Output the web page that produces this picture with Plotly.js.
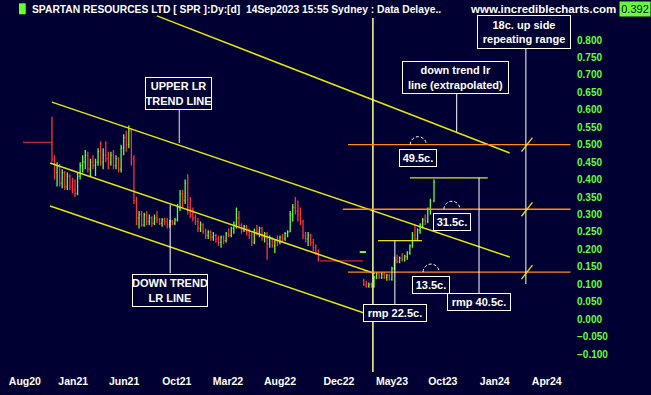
<!DOCTYPE html>
<html><head><meta charset="utf-8">
<script src="https://cdn.plot.ly/plotly-3.0.1.min.js"></script>
<style>html,body{margin:0;padding:0;background:#000033;overflow:hidden}#chart{width:651px;height:395px}</style>
</head><body><div id="chart"></div>
<script>
// ---- price data (weekly OHLC) ----
const barDates = [
'2020-11-04','2020-11-11','2020-11-18','2020-11-25','2020-12-02','2020-12-09','2020-12-16','2020-12-23','2020-12-30',
'2021-01-06','2021-01-13','2021-01-20','2021-01-27','2021-02-03','2021-02-10','2021-02-17','2021-02-24','2021-03-03','2021-03-10',
'2021-03-17','2021-03-24','2021-03-31','2021-04-07','2021-04-14','2021-04-21','2021-04-28','2021-05-05','2021-05-12','2021-05-19',
'2021-05-26','2021-06-02','2021-06-09','2021-06-16','2021-06-23','2021-06-30','2021-07-07','2021-07-14','2021-07-21','2021-07-28',
'2021-08-04','2021-08-11','2021-08-18','2021-08-25','2021-09-01','2021-09-08','2021-09-15','2021-09-22','2021-09-29','2021-10-06',
'2021-10-13','2021-10-20','2021-10-27','2021-11-03','2021-11-10','2021-11-17','2021-11-24','2021-12-01','2021-12-08','2021-12-15',
'2021-12-22','2021-12-29',
'2022-01-05','2022-01-12','2022-01-19','2022-01-26','2022-02-02','2022-02-09','2022-02-16','2022-02-23','2022-03-02','2022-03-09',
'2022-03-16','2022-03-23','2022-03-30','2022-04-06','2022-04-13','2022-04-20','2022-04-27','2022-05-04','2022-05-11','2022-05-18',
'2022-05-25','2022-06-01','2022-06-08','2022-06-15','2022-06-22','2022-06-29','2022-07-06','2022-07-13','2022-07-20','2022-07-27',
'2022-08-03','2022-08-10','2022-08-17','2022-08-24','2022-08-31','2022-09-07','2022-09-14','2022-09-21','2022-09-28','2022-10-05',
'2022-10-12','2022-10-19','2022-10-26','2022-11-02',
'2023-03-06','2023-03-13','2023-03-20','2023-03-27','2023-04-03','2023-04-10','2023-04-17','2023-04-24','2023-05-01','2023-05-08',
'2023-05-15','2023-05-22','2023-05-29','2023-06-05','2023-06-12','2023-06-19','2023-06-26','2023-07-03','2023-07-10','2023-07-17',
'2023-07-24','2023-07-31','2023-08-07','2023-08-14','2023-08-21','2023-08-28','2023-09-04','2023-09-14'];
const barOpen = [
.50,.46,.42,.44,.39,.42,.38,.41,.38,.37, .36,.41,.44,.45,.47,.43,.45,.44,.45,.48,
.45,.47,.46,.45,.47,.44,.46,.43,.49,.52, .50,.54,.46,.34,.29,.30,.27,.30,.28,.29,
.275,.29,.285,.275,.285,.28,.27,.28,.275,.285, .32,.36,.34,.39,.32,.30,.29,.28,.26,.27,
.25,.24,.25,.235,.24,.23,.22,.235,.225,.245, .24,.26,.27,.29,.27,.255,.265,.25,.24,.22,
.255,.25,.26,.235,.245,.215,.23,.21,.225,.22, .235,.23,.245,.25,.30,.32,.31,.30,.28,.24,
.23,.24,.22,.205,.19,
.11,.10,.095,.10,.095,.12,.13,.12,.13,.12, .125,.115,.145,.17,.165,.175,.17,.18,.19,.21,
.24,.23,.255,.27,.285,.28,.315,.34];
const barHigh = [
.58,.47,.45,.445,.43,.425,.42,.415,.405,.40, .42,.45,.47,.485,.48,.46,.47,.46,.49,.51,
.49,.51,.48,.48,.485,.47,.465,.50,.53,.54, .555,.545,.47,.35,.31,.31,.305,.31,.30,.295,
.30,.31,.29,.29,.29,.29,.285,.285,.29,.33, .37,.37,.40,.415,.35,.32,.30,.29,.28,.275,
.26,.255,.255,.25,.245,.24,.24,.24,.25,.26, .265,.28,.32,.31,.275,.27,.27,.26,.25,.26,
.27,.265,.265,.25,.25,.24,.235,.23,.24,.24, .245,.25,.255,.31,.33,.35,.34,.32,.285,.25,
.25,.245,.23,.215,.20,
.115,.11,.105,.105,.125,.135,.135,.135,.135,.13, .13,.15,.18,.185,.18,.19,.185,.195,.215,.25,
.27,.26,.275,.29,.30,.32,.345,.40];
const barLow = [
.45,.40,.38,.38,.375,.37,.37,.37,.36,.35, .355,.40,.42,.43,.42,.41,.43,.41,.44,.44,
.43,.45,.43,.44,.43,.43,.42,.42,.47,.48, .49,.44,.33,.27,.26,.265,.265,.27,.27,.265,
.27,.275,.27,.265,.27,.26,.262,.27,.27,.28, .31,.32,.33,.30,.29,.28,.27,.25,.25,.245,
.23,.23,.225,.225,.22,.21,.205,.215,.22,.235, .235,.245,.26,.26,.245,.25,.24,.23,.21,.215,
.24,.235,.225,.22,.17,.205,.205,.19,.21,.215, .22,.225,.235,.25,.28,.30,.28,.27,.23,.22,
.21,.21,.195,.185,.165,
.095,.09,.09,.09,.09,.115,.115,.115,.115,.11, .11,.11,.14,.16,.16,.165,.165,.17,.185,.205,
.225,.225,.245,.26,.27,.275,.30,.335];
const barClose = [
.46,.43,.44,.39,.42,.38,.41,.38,.37,.36, .41,.44,.45,.47,.43,.45,.44,.45,.48,.45,
.47,.46,.45,.47,.44,.46,.43,.49,.52,.50, .54,.46,.34,.29,.30,.27,.30,.28,.29,.275,
.29,.285,.275,.285,.28,.27,.28,.275,.285,.32, .36,.34,.39,.32,.30,.29,.28,.26,.27,.25,
.24,.25,.235,.24,.23,.22,.235,.225,.245,.24, .26,.27,.29,.27,.255,.265,.25,.24,.22,.255,
.25,.26,.235,.245,.215,.23,.21,.225,.22,.235, .23,.245,.25,.30,.32,.31,.30,.28,.24,.23,
.24,.22,.205,.19,.17,
.10,.095,.10,.095,.12,.13,.12,.13,.12,.125, .115,.145,.17,.165,.175,.17,.18,.19,.21,.24,
.23,.255,.27,.285,.28,.315,.34,.392];
// flat price lines through the trading halts
const haltDates = ['2020-08-17','2020-11-04', null, '2022-11-06','2023-03-04'];
const haltPrice = [0.507, 0.507, null, 0.167, 0.167];
// axis ticks
const xTickDates = ['2020-08-22','2021-01-01','2021-05-20','2021-10-11','2022-02-28','2022-07-20','2022-12-28','2023-05-22','2023-10-08','2024-02-27','2024-07-18'];
const xTickLabels = ['Aug20','Jan21','Jun21','Oct21','Mar22','Aug22','Dec22','May23','Oct23','Jan24','Apr24'];
const yTickVals = [-0.1,-0.05,0,0.05,0.1,0.15,0.2,0.25,0.3,0.35,0.4,0.45,0.5,0.55,0.6,0.65,0.7,0.75,0.8];
// levels and labels drawn on the chart
const levelPrices = [0.5, 0.315, 0.135];
const levelLabels = ['49.5c.', '31.5c.', '13.5c.'];
const lastPrice = 0.392;
const titleText = 'SPARTAN RESOURCES LTD [ SPR ]:Dy:[d]\u00a0\u00a014Sep2023 15:55 Sydney : Data Delaye..';

// ---- styling ----
const BG = '#000033', GREEN = '#66ff33', RED = '#ff3333', YEL = '#e6e600', ORG = '#ff8c1a', WHITE = '#ffffff';
const FONT = "'Liberation Sans', Arial, sans-serif";
const PW = 576, PH = 373;
const px = p => p / PW, py = p => 1 - p / PH;

const traces = [
  {type:'scatter', mode:'lines', x: haltDates, y: haltPrice, line:{color:RED, width:1}, hoverinfo:'skip', connectgaps:false},
  {type:'ohlc', x: barDates, open: barOpen, high: barHigh, low: barLow, close: barClose, tickwidth:0.35,
   increasing:{line:{color:GREEN, width:1.3}}, decreasing:{line:{color:RED, width:1.3}}, hoverinfo:'skip'}
];

function seg(x0, y0, x1, y1, color, width, dash) {
  return {type:'line', xref:'x', yref:'y', x0, y0, x1, y1, line:{color, width: width || 1, dash: dash || 'solid'}};
}
const shapes = [
  seg('2020-11-04', 0.622, '2024-04-08', 0.178, YEL, 1.5),
  seg('2020-10-30', 0.4476, '2023-04-05', 0.131, YEL, 1.5),
  seg('2020-10-30', 0.3244, '2023-03-31', 0.009, YEL, 1.5),
  seg('2021-08-18', 0.869, '2024-04-08', 0.476, YEL, 1.5),
  seg('2023-03-31', -0.151, '2023-03-31', 0.863, '#ffff99', 1.5),
  seg('2023-01-22', levelPrices[0], '2024-09-21', levelPrices[0], ORG, 1.3),
  seg('2023-01-08', levelPrices[1], '2024-09-21', levelPrices[1], ORG, 1.3),
  seg('2023-01-22', levelPrices[2], '2024-09-21', levelPrices[2], ORG, 1.3),
  seg('2024-05-22', 0.101, '2024-05-22', 0.777, WHITE, 1),
  seg('2023-11-15', 0.537, '2023-11-15', 0.647, WHITE, 1),
  seg('2021-10-18', 0.505, '2021-10-18', 0.5994, '#c0c0c0', 1.2),
  seg('2021-09-23', 0.1315, '2021-09-23', 0.3272, WHITE, 1),
  seg('2023-04-14', 0.225, '2023-08-12', 0.225, YEL, 1.3),
  seg('2023-05-30', 0.0436, '2023-05-30', 0.225, WHITE, 1),
  seg('2023-07-10', 0.405, '2024-02-08', 0.405, YEL, 1.3),
  seg('2024-01-15', 0.075, '2024-01-15', 0.405, WHITE, 1),
  seg('2023-02-23', 0.1925, '2023-03-12', 0.1925, GREEN, 2),
  {type:'rect', xref:'paper', yref:'paper', x0:px(19), x1:px(25.7), y0:py(14.3), y1:py(3.3), fillcolor:GREEN, line:{width:0}}
];
levelPrices.forEach(v => shapes.push(seg('2024-05-10', v - 0.02, '2024-06-09', v + 0.02, YEL, 1.3)));
const arcAt = [['2023-08-02', levelPrices[0]], ['2023-11-02', levelPrices[1]], ['2023-09-06', levelPrices[2]]];
const r = 8, k = 0.552 * r;
arcAt.forEach(a => shapes.push({type:'path', xref:'x', yref:'y', xsizemode:'pixel', ysizemode:'pixel',
  xanchor:a[0], yanchor:a[1],
  path:`M ${-r},0 C ${-r},${k} ${-k},${r} 0,${r} C ${k},${r} ${r},${k} ${r},0`,
  line:{color:WHITE, width:1, dash:'3px,2px'}}));

function box(text, cx, cy, w, h, size) {
  return {xref:'paper', yref:'paper', x:px(cx), y:py(cy), xanchor:'center', yanchor:'middle', showarrow:false,
    text, width:w - 2, height:h - 2, borderpad:0, borderwidth:1, bordercolor:WHITE, bgcolor:BG, align:'center',
    font:{family: FONT, size: size || 11, color:WHITE, weight:'bold'}};
}
const annotations = [
  {xref:'paper', yref:'paper', x:px(30), y:py(9), xanchor:'left', yanchor:'middle', showarrow:false, text:titleText,
   font:{family:FONT, size:10.3, color:WHITE, weight:'bold'}},
  {xref:'paper', yref:'paper', x:px(468), y:py(9), xanchor:'left', yanchor:'middle', showarrow:false, text:'www.incrediblecharts.com',
   font:{family:FONT, size:11.5, color:WHITE, weight:'bold'}},
  {xref:'paper', yref:'paper', x:px(635), y:py(9), xanchor:'center', yanchor:'middle', showarrow:false, text:lastPrice.toFixed(3),
   width:30, height:14, borderpad:0, bgcolor:GREEN, font:{family:FONT, size:11, color:'#000033'}},
  box('UPPER LR<br>TREND LINE', 178.8, 93.7, 67, 33, 11),
  box('DOWN TREND<br>LR LINE', 170.3, 290, 76, 33, 11),
  box('down trend lr<br>line (extrapolated)', 455.8, 77, 107, 33, 11),
  box('18c. up side<br>repeating range', 524, 32.5, 94, 34, 11),
  box(levelLabels[0], 418, 158, 38, 18, 11),
  box(levelLabels[1], 452, 222, 38, 18, 11),
  box(levelLabels[2], 430.5, 284.5, 38, 18, 11),
  box('rmp 40.5c.', 479, 302, 64, 18, 11),
  box('rmp 22.5c.', 395, 313, 64, 18, 11)
];

const layout = {
  width:651, height:395, margin:{l:0, r:75, t:0, b:22},
  paper_bgcolor:BG, plot_bgcolor:BG, showlegend:false,
  xaxis:{type:'date', range:['2020-06-15','2024-10-06'], tickmode:'array', tickvals:xTickDates, ticktext:xTickLabels,
    showgrid:false, zeroline:false, showline:false, ticks:'', rangeslider:{visible:false}, fixedrange:true,
    tickfont:{family:FONT, size:10.5, color:WHITE, weight:'bold'}},
  yaxis:{side:'right', range:[-0.15415, 0.91461], tickmode:'array', tickvals:yTickVals, tickformat:'.3f',
    showgrid:false, zeroline:false, showline:false, ticks:'', fixedrange:true,
    tickfont:{family:FONT, size:10, color:GREEN, weight:'bold'}},
  shapes, annotations
};
Plotly.newPlot('chart', traces, layout, {staticPlot:true, displayModeBar:false});
</script></body></html>
